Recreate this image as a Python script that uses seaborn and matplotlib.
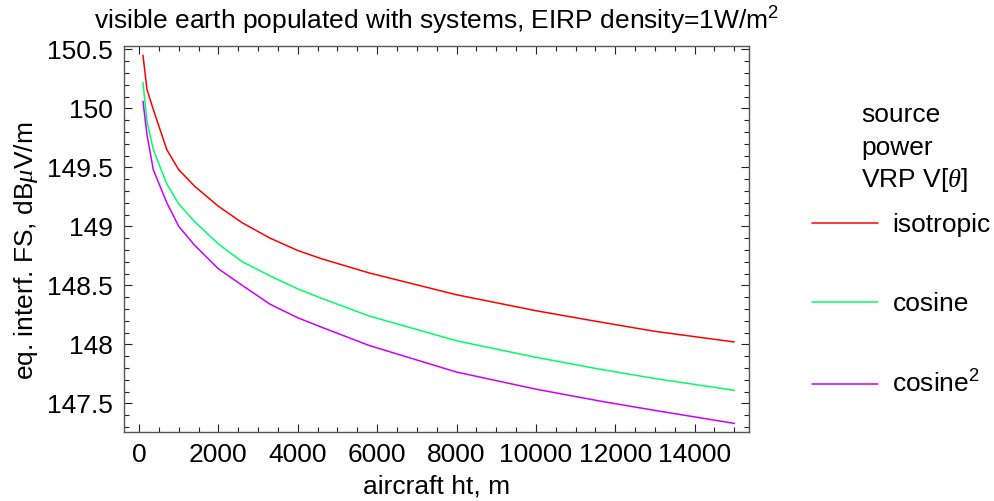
import numpy as np
import pandas as pd
import matplotlib
matplotlib.use("Agg")
import matplotlib.pyplot as plt
from matplotlib.ticker import MultipleLocator
import seaborn as sns

# aircraft height, m
height_m = [100, 200, 360, 700, 1000, 1400, 2000, 2600, 3300, 4000, 4600,
            5800, 8000, 10000, 11600, 13000, 15000]
# equivalent interfering field strength, dBuV/m
fs_isotropic = [150.45, 150.16, 149.99, 149.65, 149.48, 149.34, 149.17, 149.03,
                148.90, 148.795, 148.725, 148.605, 148.42, 148.285, 148.19, 148.11, 148.02]
fs_cosine = [150.22, 149.89, 149.65, 149.36, 149.19, 149.04, 148.85, 148.70,
             148.58, 148.47, 148.39, 148.24, 148.03, 147.89, 147.79, 147.71, 147.61]
fs_cosine2 = [150.06, 149.78, 149.48, 149.20, 149.00, 148.84, 148.64, 148.50,
              148.34, 148.225, 148.145, 147.99, 147.765, 147.62, 147.52, 147.44, 147.33]

series_names = ["isotropic", "cosine", "cosine$\\mathregular{^2}$"]
series_colors = ["#FF0000", "#00FF66", "#CC00FF"]

df = pd.concat([
    pd.DataFrame({"h": height_m, "fs": vals, "pattern": name})
    for name, vals in zip(series_names, [fs_isotropic, fs_cosine, fs_cosine2])
])

sns.set_style("white")
plt.rcParams["font.family"] = ["Liberation Sans", "DejaVu Sans"]
plt.rcParams["mathtext.fontset"] = "custom"
plt.rcParams["mathtext.rm"] = "Liberation Sans"
plt.rcParams["mathtext.it"] = "Liberation Serif:italic"
plt.rcParams["mathtext.cal"] = "Liberation Serif"
for key in ["text.color", "axes.labelcolor", "xtick.color", "ytick.color"]:
    plt.rcParams[key] = "black"

FS = 19
fig = plt.figure(figsize=(9.95, 5.01), dpi=100)
ax = fig.add_axes([124 / 995, 1 - 432 / 501, (749 - 124) / 995, (432 - 46) / 501])

sns.lineplot(data=df, x="h", y="fs", hue="pattern", palette=series_colors,
             hue_order=series_names, linewidth=1.1, ax=ax, legend=True)

ax.set_xlim(-378, 15370)
ax.set_ylim(147.257, 150.528)
ax.xaxis.set_major_locator(MultipleLocator(2000))
ax.xaxis.set_minor_locator(MultipleLocator(500))
ax.yaxis.set_major_locator(MultipleLocator(0.5))
ax.yaxis.set_minor_locator(MultipleLocator(0.1))
ax.yaxis.set_major_formatter(plt.FuncFormatter(lambda v, p: f"{v:g}"))

frame_color = "#555555"
for s in ax.spines.values():
    s.set_color(frame_color)
    s.set_linewidth(1.0)
ax.tick_params(which="both", direction="in", top=True, right=True,
               bottom=True, left=True, color="#222222", labelcolor="black",
               labelsize=FS, width=0.8)
ax.tick_params(which="major", length=6, pad=8)
ax.tick_params(which="minor", length=3.5)

ax.set_xlabel("aircraft ht, m", fontsize=FS, labelpad=5)
ax.set_ylabel("eq. interf. FS, dB$\\mathit{\\mu}$V/m", fontsize=FS)
ax.yaxis.set_label_coords(12 / 995, 1 - 251 / 501, transform=fig.transFigure)
ax.yaxis.label.set_va("top")

ax.set_title("visible earth populated with systems, EIRP density=1W/m$\\mathregular{^2}$",
             fontsize=FS, pad=12)

handles, labels = ax.get_legend_handles_labels()
ax.legend(handles, labels, loc="upper left", bbox_to_anchor=(812 / 995, 1 - 213 / 501),
          bbox_transform=fig.transFigure, frameon=False, fontsize=FS,
          handlelength=2.5, handletextpad=0.55, labelspacing=2.08,
          borderaxespad=0, borderpad=0, labelcolor="black")

for i, line in enumerate(["source", "power", "VRP V$\\mathregular{[}\\mathit{\\theta}\\mathregular{]}$"]):
    fig.text(861 / 995, 1 - (115 + 32.5 * i) / 501, line, fontsize=FS, ha="left", va="center")

fig.savefig("out.png", dpi=100)
